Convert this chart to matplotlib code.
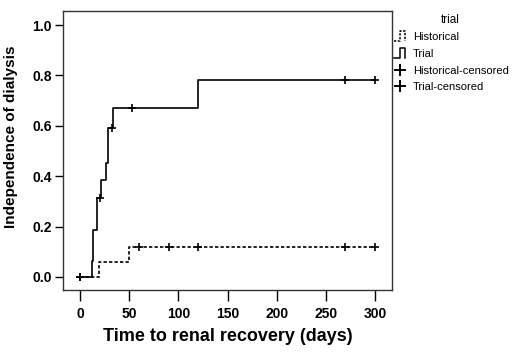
import matplotlib
matplotlib.use("Agg")
import matplotlib.pyplot as plt
from matplotlib.lines import Line2D
from matplotlib.legend_handler import HandlerBase

plt.rcParams['font.family'] = ['Liberation Sans', 'DejaVu Sans']

# Step data (time in days, cumulative probability of independence)
trial_times = [0, 12.5, 13.6, 17.6, 21.7, 26.4, 28.8, 33.9, 119.7, 300]
trial_probs = [0.0, 0.0625, 0.1875, 0.3125, 0.384, 0.451, 0.590, 0.672, 0.782, 0.782]
trial_cens_t = [0, 20.3, 32.2, 52.5, 270, 300]
trial_cens_p = [0.0, 0.3125, 0.590, 0.672, 0.782, 0.782]

hist_times = [0, 19.3, 49.8, 300]
hist_probs = [0.0, 0.0588, 0.1176, 0.1176]
hist_cens_t = [0, 60, 90, 120, 270, 300]
hist_cens_p = [0.0, 0.1176, 0.1176, 0.1176, 0.1176, 0.1176]

x_ticks = [0, 50, 100, 150, 200, 250, 300]
y_ticks = [0.0, 0.2, 0.4, 0.6, 0.8, 1.0]

fig = plt.figure(figsize=(5.2, 3.53), dpi=100)
ax = fig.add_axes([63/520, 1-290/353, (392-63)/520, (290-11)/353])

ax.step(hist_times, hist_probs, where='post', color='black', lw=1.2, ls=(0, (2, 1.3)))
ax.step(trial_times, trial_probs, where='post', color='black', lw=1.2)
ax.plot(hist_cens_t, hist_cens_p, ls='none', marker='+', ms=6, mew=1.2, color='black')
ax.plot(trial_cens_t, trial_cens_p, ls='none', marker='+', ms=6, mew=1.2, color='black')

ax.set_xlim(-17.3, 317.3)
ax.set_ylim(-0.052, 1.056)
ax.set_xticks(x_ticks)
ax.set_yticks(y_ticks)
ax.set_yticklabels([f"{v:.1f}" for v in y_ticks])
ax.tick_params(direction='out', width=1, colors='black', labelsize=10)
ax.tick_params(axis='x', length=8, pad=4)
ax.tick_params(axis='y', length=6, pad=2)
for lab in ax.get_xticklabels() + ax.get_yticklabels():
    lab.set_fontweight('bold')
for s in ax.spines.values():
    s.set_linewidth(1.0)
    s.set_color('#333333')

ax.set_xlabel("Time to renal recovery (days)", fontsize=13, fontweight='bold', labelpad=5)
ax.set_ylabel("Independence of dialysis", fontsize=11, fontweight='bold')
ax.yaxis.set_label_coords(-45/329, 0.548)


class StepHandler(HandlerBase):
    def __init__(self, ls):
        super().__init__()
        self.ls = ls

    def create_artists(self, legend, orig_handle, xdescent, ydescent, width, height, fontsize, trans):
        xs = [0, width*0.45, width*0.45, width*0.9, width*0.9]
        ys = [-height*0.1, -height*0.1, height*1.15, height*1.15, -height*0.1]
        l = Line2D([x - xdescent for x in xs], [y - ydescent for y in ys],
                   color='black', lw=1.1, ls=self.ls, transform=trans)
        return [l]


h1 = Line2D([], [], color='black', ls=':')
h2 = Line2D([], [], color='black')
h3 = Line2D([], [], ls='none', marker='+', ms=9, mew=1.4, color='black')
h4 = Line2D([], [], ls='none', marker='+', ms=9, mew=1.4, color='black')
leg = fig.legend([h1, h2, h3, h4],
                 ["Historical", "Trial", "Historical-censored", "Trial-censored"],
                 handler_map={h1: StepHandler((0, (1.5, 1))), h2: StepHandler('-')},
                 loc='upper left', bbox_to_anchor=(392/520, 1-30/353),
                 frameon=False, fontsize=8,
                 handlelength=1.1, handletextpad=0.6, labelspacing=0.6,
                 borderaxespad=0, borderpad=0.2)
fig.text(450/520, 1-20/353, "trial", fontsize=8.5, ha='center', va='center')

fig.savefig("out.png", dpi=100)
